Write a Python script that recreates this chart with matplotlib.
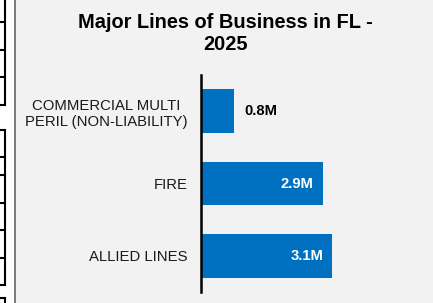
import matplotlib
matplotlib.use("Agg")
import matplotlib.pyplot as plt
from matplotlib.patches import Rectangle
from matplotlib.lines import Line2D

plt.rcParams['font.family'] = ['Liberation Sans', 'DejaVu Sans']

# ---- data ----
categories = ["COMMERCIAL MULTI\nPERIL (NON-LIABILITY)", "FIRE", "ALLIED LINES"]
values = [0.78, 2.87, 3.10]  # millions
value_labels = [f"{v:.1f}M" for v in values]
title = "Major Lines of Business in FL -\n2025"

W, H = 433, 303
fig = plt.figure(figsize=(W / 100, H / 100), dpi=100)
fig.patch.set_facecolor("#f2f2f2")

# ---- left fragment strip (decoration) ----
def fx(px):
    return px / W

def fy(py):
    return 1 - py / H

fig.patches.append(Rectangle((0, 0), fx(14), 1, transform=fig.transFigure,
                             facecolor="white", edgecolor="none", zorder=0))
fig.lines.append(Line2D([fx(14.8), fx(14.8)], [0, 1], transform=fig.transFigure,
                        color="#707070", lw=1.3))
strip_groups = [(0, 105, [22, 50, 77, 105]),
                (130, 285, [130, 157, 175, 203, 230, 258, 285]),
                (298, 303, [298])]
for y0, y1, hs in strip_groups:
    fig.lines.append(Line2D([fx(5), fx(5)], [fy(y0), fy(y1)], transform=fig.transFigure,
                            color="black", lw=1.5))
    for hy in hs:
        fig.lines.append(Line2D([0, fx(5)], [fy(hy), fy(hy)], transform=fig.transFigure,
                                color="black", lw=1.5))

# ---- axes ----
left_px, right_px, top_px, bottom_px = 201, 420, 75, 292
ax = fig.add_axes([fx(left_px), 1 - bottom_px / H,
                   (right_px - left_px) / W, (bottom_px - top_px) / H])
ax.set_facecolor("none")

px_per_unit = 42.35
ax.set_xlim(0, (right_px - left_px) / px_per_unit)
ax.set_ylim(-0.5, len(categories) - 0.5)

ypos = list(range(len(categories)))
bars = ax.barh(ypos, values, height=0.6, color="#0070C0", edgecolor="none")
ax.invert_yaxis()

ax.set_yticks(ypos)
ax.set_yticklabels(categories, fontsize=10.7, color="#1a1a1a")
for lab in ax.get_yticklabels():
    lab.set_multialignment("center")
ax.tick_params(axis="y", length=0, pad=9.5)
ax.set_xticks([])

for s in ["top", "right", "bottom"]:
    ax.spines[s].set_visible(False)
ax.spines["left"].set_linewidth(1.8)
ax.spines["left"].set_color("black")

xmax = ax.get_xlim()[1]
for y, v, lab in zip(ypos, values, value_labels):
    if v < 0.25 * xmax:
        ax.annotate(lab, (v, y), xytext=(7.2, 0), textcoords="offset points",
                    ha="left", va="center", fontsize=10.6, fontweight="bold", color="black")
    else:
        ax.annotate(lab, (v, y), xytext=(-6.5, 0), textcoords="offset points",
                    ha="right", va="center", fontsize=10.6, fontweight="bold", color="white")

fig.text(fx(225), fy(13.5), title, ha="center", va="top", fontsize=14.4,
         fontweight="bold", color="black", linespacing=1.2)

fig.savefig("out.png", dpi=100, facecolor=fig.get_facecolor())
